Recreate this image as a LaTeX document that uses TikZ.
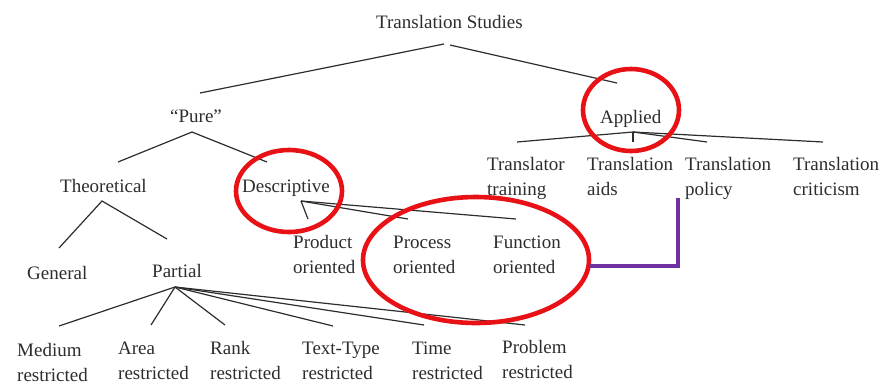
\documentclass[tikz,border=0pt]{standalone}
\usepackage{fontspec}
\setmainfont{Liberation Serif}
\definecolor{ink}{RGB}{45,45,45}
\definecolor{markred}{RGB}{232,18,22}
\definecolor{markpurple}{RGB}{112,48,160}
\newcommand{\twoline}[2]{\begin{tabular}[t]{@{}l@{}}#1\\#2\end{tabular}}
\begin{document}
\begin{tikzpicture}[x=1pt,y=-1pt,
  lab/.style={anchor=base west,inner sep=0pt,text=ink,font=\fontsize{19}{25.5}\selectfont},
  branch/.style={draw=ink,line width=1.2pt},
  redmark/.style={draw=markred,line width=4.6pt},
  purplemark/.style={draw=markpurple,line width=4.6pt}]
\useasboundingbox (0,0) rectangle (881,384);
% labels
\node[lab] (ts) at (376,28) {Translation Studies};
\node[lab] (pure) at (170,122) {``Pure''};
\node[lab] (applied) at (600,123) {Applied};
\node[lab] (theo) at (60,192) {Theoretical};
\node[lab] (desc) at (242,192) {Descriptive};
\node[lab] (general) at (27,279) {General};
\node[lab] (partial) at (152,277) {Partial};
\node[lab] (product) at (293,248) {\twoline{Product}{oriented}};
\node[lab] (process) at (393,248) {\twoline{Process}{oriented}};
\node[lab] (function) at (493,248) {\twoline{Function}{oriented}};
\node[lab] (trtrain) at (487,170) {\twoline{Translator}{training}};
\node[lab] (traids) at (587,170) {\twoline{Translation}{aids}};
\node[lab] (trpolicy) at (685,170) {\twoline{Translation}{policy}};
\node[lab] (trcrit) at (793,170) {\twoline{Translation}{criticism}};
\node[lab] (medium) at (17,356) {\twoline{Medium}{restricted}};
\node[lab] (area) at (118,354) {\twoline{Area}{restricted}};
\node[lab] (rank) at (210,354) {\twoline{Rank}{restricted}};
\node[lab] (texttype) at (302,354) {\twoline{Text-Type}{restricted}};
\node[lab] (time) at (412,354) {\twoline{Time}{restricted}};
\node[lab] (problem) at (502,353) {\twoline{Problem}{restricted}};
% junction coordinates
\coordinate (ts-jl) at (444,44);
\coordinate (ts-jr) at (450,45);
\coordinate (pure-t) at (200,93);
\coordinate (applied-t) at (617,83);
\coordinate (pure-j) at (192,132);
\coordinate (theo-t) at (118,162);
\coordinate (desc-t) at (267,162);
\coordinate (theo-j) at (102,201);
\coordinate (general-t) at (59,248);
\coordinate (partial-t) at (167,239);
\coordinate (desc-j) at (301,201);
\coordinate (product-t) at (308,219);
\coordinate (process-t) at (408,219);
\coordinate (function-t) at (516,219);
\coordinate (partial-j) at (175,287);
\coordinate (medium-t) at (59,326);
\coordinate (area-t) at (151,325);
\coordinate (rank-t) at (225,325);
\coordinate (texttype-t) at (333,326);
\coordinate (time-t) at (424,325);
\coordinate (problem-t) at (525,325);
\coordinate (applied-j) at (633,132);
\coordinate (trtrain-t) at (517,142);
\coordinate (traids-t) at (633,142);
\coordinate (trpolicy-t) at (707,142);
\coordinate (trcrit-t) at (823,142);
% branches
\draw[branch] (ts-jl) -- (pure-t);
\draw[branch] (ts-jr) -- (applied-t);
\draw[branch] (theo-t) -- (pure-j) -- (desc-t);
\draw[branch] (general-t) -- (theo-j) -- (partial-t);
\draw[branch] (desc-j) -- (product-t);
\draw[branch] (desc-j) -- (process-t);
\draw[branch] (desc-j) -- (function-t);
\foreach \c in {medium,area,rank,texttype,time,problem}
  \draw[branch] (partial-j) -- (\c-t);
\foreach \c in {trtrain,traids,trpolicy,trcrit}
  \draw[branch] (applied-j) -- (\c-t);
% highlight marks
\draw[redmark] (631,110) ellipse [x radius=48, y radius=41];
\draw[redmark] (289,191) ellipse [x radius=53, y radius=41];
\draw[redmark] (476,260) ellipse [x radius=113, y radius=63];
\coordinate (bigell-e) at (589,266);
\coordinate (policy-mark) at (678,198);
\draw[purplemark] (policy-mark) |- (bigell-e);
\end{tikzpicture}
\end{document}
